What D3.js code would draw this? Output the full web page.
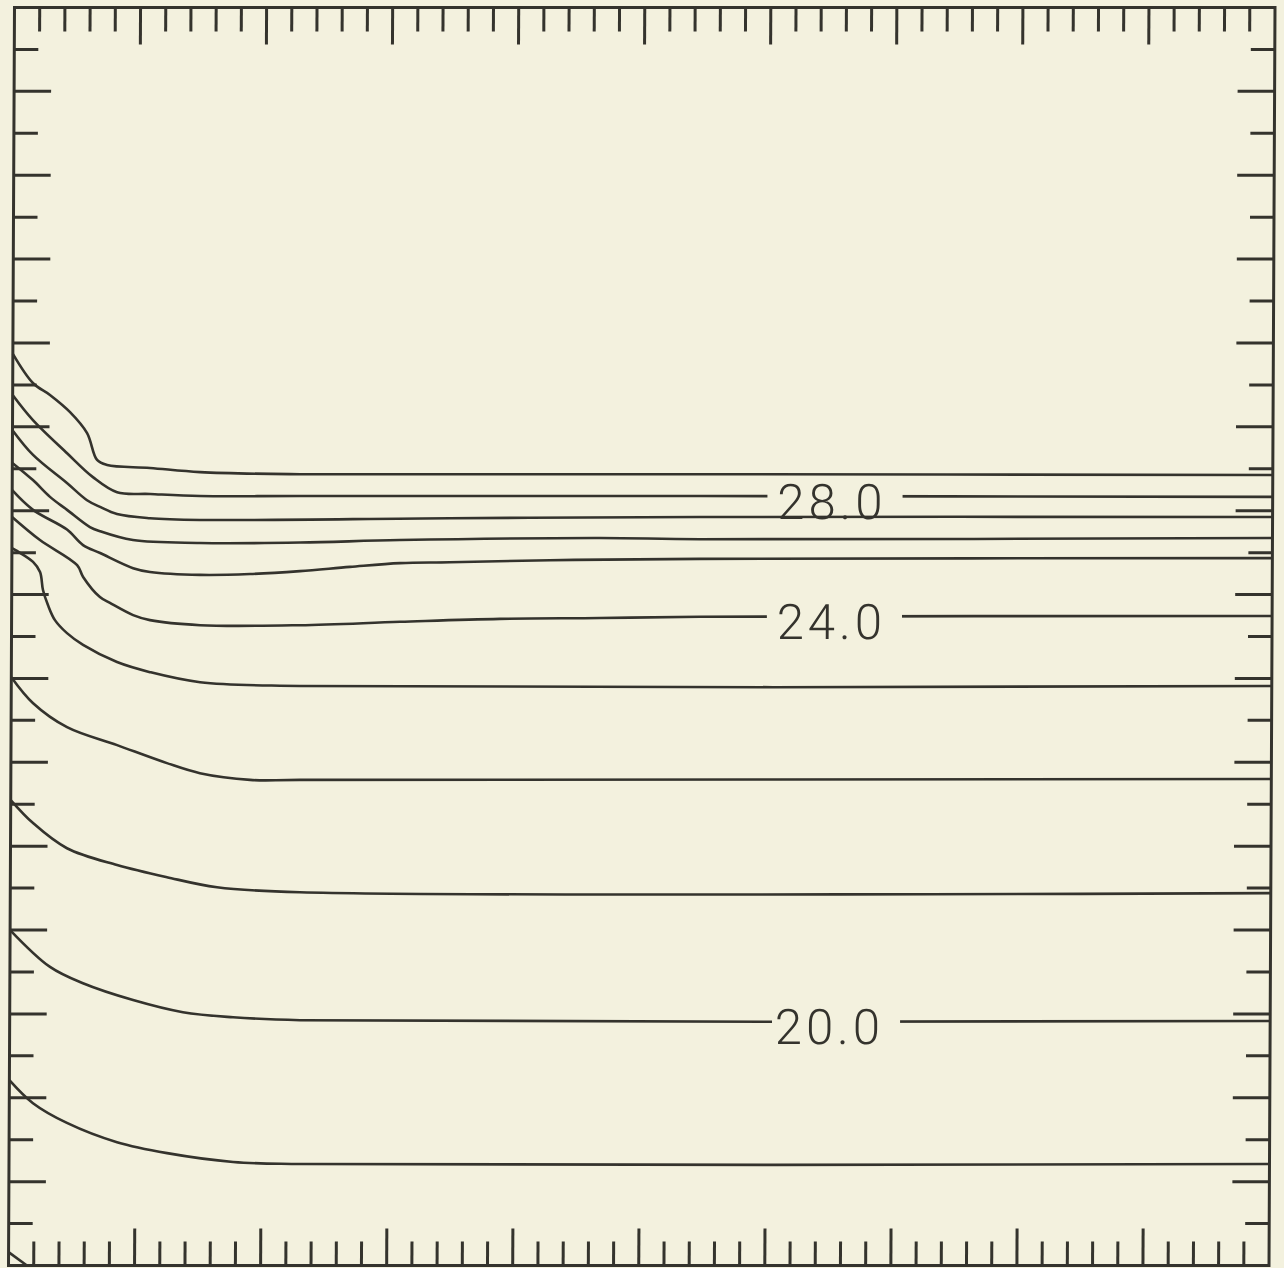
<!DOCTYPE html>
<html>
<head>
<meta charset="utf-8">
<script src="https://cdn.jsdelivr.net/npm/d3@7"></script>
<style>
  body { margin: 0; background: #f3f1de; }
  .frame { fill: none; stroke: #34332d; stroke-width: 3; }
  .tick { stroke: #34332d; stroke-width: 3; }
  .contour { fill: none; stroke: #34332d; stroke-width: 2.6; stroke-linejoin: round; }
  .label { font-family: Roboto, "Liberation Sans", sans-serif; font-weight: 300; font-size: 49px; letter-spacing: 4px; fill: #34332d; }
</style>
</head>
<body>
<div id="grafico"></div>
<script>
// contour levels, top to bottom
var levels = [29, 28, 27, 26, 25, 24, 23, 22, 21, 20, 19, 18];

// contour points [x, y] in plot units (x 0..50, y 0..30 downward)
var c29 = [[0,8.26],[0.81,8.96],[1.48,9.24],[2.28,9.65],[2.96,10.15],[3.36,10.79],[3.76,10.91],[5.46,10.98],[7.45,11.08],[11.41,11.13],[27.28,11.13],[50,11.15]];
var c28 = [[0,9.24],[0.81,9.84],[2.17,10.63],[3.2,11.2],[4.16,11.56],[5.47,11.6],[7.45,11.65],[11.42,11.65],[27.28,11.65],[50,11.67]];
var c27 = [[0,10.08],[0.82,10.67],[2.17,11.34],[2.97,11.75],[3.49,11.91],[4.16,12.08],[5.47,12.18],[7.45,12.22],[17.37,12.18],[27.28,12.15],[50,12.15]];
var c26 = [[0,10.86],[0.82,11.27],[1.5,11.67],[2.18,11.98],[3.09,12.39],[3.49,12.49],[4.8,12.7],[7.46,12.77],[11.43,12.76],[15.39,12.7],[23.32,12.65],[27.29,12.68],[50,12.65]];
var c25 = [[0,11.51],[0.83,11.98],[2.18,12.45],[2.82,12.82],[3.5,13.01],[4.81,13.37],[5.48,13.46],[7.47,13.53],[9.45,13.51],[11.43,13.44],[13.41,13.34],[15.4,13.25],[17.38,13.23],[21.35,13.18],[27.29,13.15],[50,13.13]];
var c24 = [[0,12.15],[1.11,12.7],[2.59,13.3],[2.83,13.58],[3.5,14.06],[3.9,14.2],[4.82,14.49],[5.49,14.61],[7.48,14.73],[11.44,14.73],[15.41,14.65],[19.37,14.58],[23.34,14.56],[27.31,14.53],[50,14.51]];
var c23 = [[0,12.89],[0.2,12.96],[0.84,13.22],[1.12,13.46],[1.24,13.89],[1.44,14.25],[1.72,14.61],[2.2,14.92],[2.84,15.2],[4.19,15.61],[5.5,15.85],[7.49,16.09],[11.45,16.18],[50,16.18]];
var c22 = [[0,15.97],[0.87,16.59],[2.22,17.16],[4.21,17.59],[6.19,18.02],[7.5,18.26],[9.49,18.42],[11.47,18.42],[50,18.4]];
var c21 = [[0,18.9],[0.89,19.45],[2.24,20.05],[4.23,20.45],[6.21,20.74],[8.2,20.98],[11.49,21.1],[50,21.12]];
var c20 = [[0,22.0],[1.59,22.88],[2.9,23.27],[4.89,23.67],[6.87,23.96],[8.86,24.08],[11.52,24.15],[50,24.17]];
var c19 = [[0,25.58],[0.94,26.13],[2.29,26.6],[4.28,27.06],[6.27,27.32],[8.89,27.53],[11.54,27.58],[50,27.58]];
var c18 = [[0,29.68],[0.73,30]];
var contours = [c29, c28, c27, c26, c25, c24, c23, c22, c21, c20, c19, c18];

// contour labels
var labelText = ["28.0", "24.0", "20.0"];
var labelX = [32.44, 32.44, 32.44];
var labelY = [11.66, 14.52, 24.17];
var labelGap = [[29.96, 35.32], [29.96, 35.32], [30.24, 35.32]];

var W = 1284, H = 1268;

// set the ranges
var x = d3.scaleLinear().domain([0, 50]).range([14.5, 1275]);
var y = d3.scaleLinear().domain([0, 30]).range([7.5, 1265.5]);

var svg = d3.select("#grafico").append("svg")
	.attr("width", W)
	.attr("height", H)
	.style("display", "block");

svg.append("rect")
	.attr("width", W)
	.attr("height", H)
	.style("fill", "#f3f1de");

// the scanned plot leans a little to the left
var g = svg.append("g")
	.attr("transform", "translate(0,7.5) skewX(-0.273) translate(0,-7.5)");

// mask to break the lines under the labels
var mask = g.append("defs").append("mask")
	.attr("id", "gaps")
	.attr("maskUnits", "userSpaceOnUse")
	.attr("x", -50).attr("y", -50).attr("width", W + 100).attr("height", H + 100);
mask.append("rect")
	.attr("x", -50).attr("y", -50).attr("width", W + 100).attr("height", H + 100)
	.style("fill", "#fff");
mask.selectAll(".gap")
	.data(labelText)
	.enter().append("rect")
	.attr("x", function(d, i) { return x(labelGap[i][0]); })
	.attr("y", function(d, i) { return y(labelY[i]) - 7; })
	.attr("width", function(d, i) { return x(labelGap[i][1]) - x(labelGap[i][0]); })
	.attr("height", 14)
	.style("fill", "#000");

// define the line
var valueline = d3.line()
	.curve(d3.curveCatmullRom.alpha(0.5))
	.x(function(d) { return x(d[0]); })
	.y(function(d) { return y(d[1]); });

// add the contours
g.append("g")
	.attr("mask", "url(#gaps)")
	.selectAll("path")
	.data(contours)
	.enter().append("path")
	.attr("class", "contour")
	.attr("data-level", function(d, i) { return levels[i]; })
	.attr("d", valueline);

// add the labels
g.selectAll(".label")
	.data(labelText)
	.enter().append("text")
	.attr("class", "label")
	.attr("x", function(d, i) { return x(labelX[i]) + 2; })
	.attr("y", function(d, i) { return y(labelY[i]) + 23; })
	.attr("text-anchor", "middle")
	.text(function(d) { return d; });

// ticks on all four sides
var xTicks = d3.range(1, 50);
var yTicks = d3.range(1, 30);
var shortLen = 24, longLen = 37;

function xLen(d) { return d % 5 == 0 ? longLen : shortLen; }
function yLen(d) { return d % 2 == 0 ? longLen : shortLen; }

g.append("g").selectAll("line")
	.data(xTicks)
	.enter().append("line")
	.attr("class", "tick")
	.attr("x1", function(d) { return x(d); })
	.attr("x2", function(d) { return x(d); })
	.attr("y1", y(0))
	.attr("y2", function(d) { return y(0) + xLen(d); });

g.append("g").selectAll("line")
	.data(xTicks)
	.enter().append("line")
	.attr("class", "tick")
	.attr("x1", function(d) { return x(d); })
	.attr("x2", function(d) { return x(d); })
	.attr("y1", y(30))
	.attr("y2", function(d) { return y(30) - xLen(d); });

g.append("g").selectAll("line")
	.data(yTicks)
	.enter().append("line")
	.attr("class", "tick")
	.attr("y1", function(d) { return y(d); })
	.attr("y2", function(d) { return y(d); })
	.attr("x1", x(0))
	.attr("x2", function(d) { return x(0) + yLen(d); });

g.append("g").selectAll("line")
	.data(yTicks)
	.enter().append("line")
	.attr("class", "tick")
	.attr("y1", function(d) { return y(d); })
	.attr("y2", function(d) { return y(d); })
	.attr("x1", x(50))
	.attr("x2", function(d) { return x(50) - yLen(d); });

// the frame
g.append("rect")
	.attr("class", "frame")
	.attr("x", x(0))
	.attr("y", y(0))
	.attr("width", x(50) - x(0))
	.attr("height", y(30) - y(0));
</script>
</body>
</html>
